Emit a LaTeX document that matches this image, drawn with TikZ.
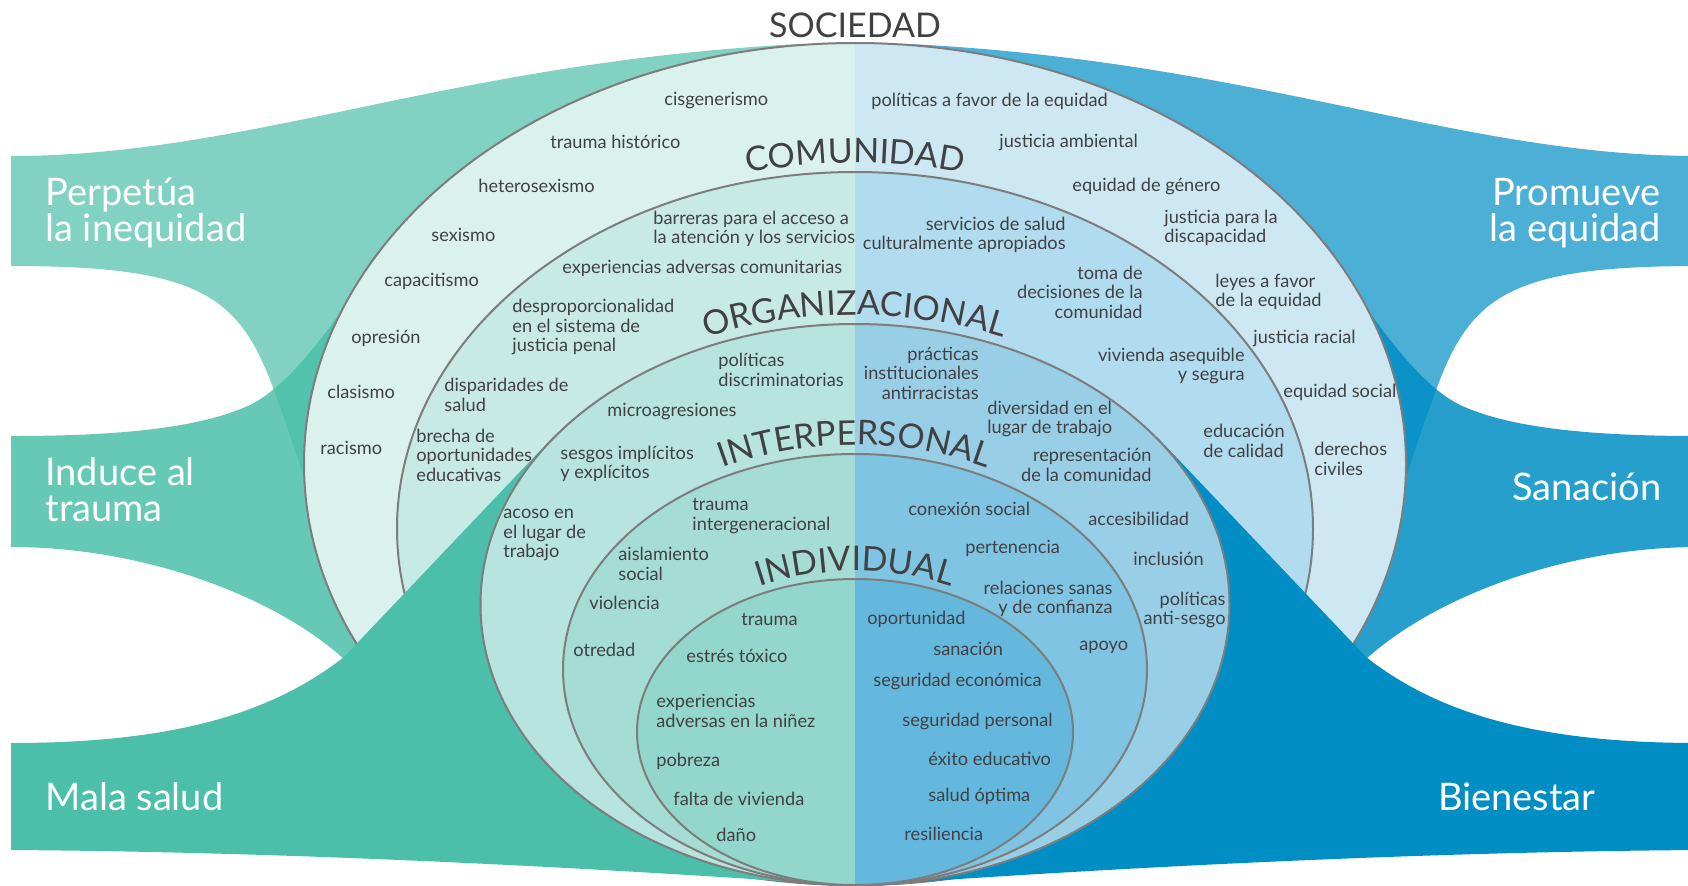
\documentclass[tikz,border=0pt]{standalone}
\usepackage{fontspec}
\setmainfont{Lato}
\usetikzlibrary{decorations.text}

\definecolor{tealbase}{HTML}{4BBFA9}
\definecolor{bluebase}{HTML}{008EC4}
\definecolor{socL}{HTML}{DAF1EE}
\definecolor{comL}{HTML}{C7EAE4}
\definecolor{orgL}{HTML}{B7E4DD}
\definecolor{intL}{HTML}{A5DDD4}
\definecolor{indL}{HTML}{93D6CB}
\definecolor{socR}{HTML}{CDE8F3}
\definecolor{comR}{HTML}{B1DBEE}
\definecolor{orgR}{HTML}{98CFE7}
\definecolor{intR}{HTML}{7FC4E2}
\definecolor{indR}{HTML}{64B8DE}
\definecolor{ringcol}{HTML}{7D7D7D}
\definecolor{txtcol}{HTML}{414042}
\newcommand\ttlfont{\fontsize{17}{17}\selectfont}

\begin{document}
\begin{tikzpicture}[x=0.5pt, y=-0.5pt]
  \tikzstyle{ring} = [draw=ringcol, line width=1pt]
  \tikzstyle{lbl} = [inner sep=0pt, text=txtcol, font=\fontsize{9.1}{9.8}\selectfont,
                     align=left, anchor=west]
  \tikzstyle{lblr} = [lbl, align=right, anchor=east]
  \tikzstyle{band} = [inner sep=0pt, text=white, font=\fontsize{19}{18}\selectfont,
                      align=left, anchor=west]
  \tikzstyle{lvltitle} = [decorate, decoration={text along path, text align=center,
                          text color=txtcol}]
\useasboundingbox (0,0) rectangle (1688,885);
\clip (0,0) rectangle (1688,885);
% ribbons behind the outer rings
\foreach \s/\c in {1/tealbase, -1/bluebase}{
  \begin{scope}[shift={(855,0)}, xscale=\s, shift={(-855,0)}]
    \fill[\c, opacity=0.85] (11,436) .. controls (120,436) and (200,428) .. (250,405)
        .. controls (290,385) and (330,330) .. (375,262) -- (600,450) -- (420,740)
        -- (345,660) .. controls (280,600) and (150,547) .. (11,547) -- cycle;
    \fill[\c, opacity=0.7] (11,156) .. controls (250,156) and (450,62) .. (800,44)
        -- (855,50) -- (855,300) -- (500,560) -- (358,655)
        .. controls (330,560) and (300,460) .. (275,393)
        .. controls (240,295) and (200,266) .. (11,266) -- cycle;
  \end{scope}
}
% sociedad, comunidad
\foreach \cy/\rx/\ry/\lc/\rc in {464/551/421/socL/socR, 528.5/458/356.5/comL/comR}{
  \begin{scope}
    \clip (0,0) rectangle (855,885);
    \fill[\lc] (855,\cy) ellipse [x radius=\rx, y radius=\ry];
  \end{scope}
  \begin{scope}
    \clip (855,0) rectangle (1688,885);
    \fill[\rc] (855,\cy) ellipse [x radius=\rx, y radius=\ry];
  \end{scope}
  \draw[ring] (855,\cy) ellipse [x radius=\rx, y radius=\ry];
}
% mala salud / bienestar
\foreach \s/\c in {1/tealbase, -1/bluebase}{
  \begin{scope}[shift={(855,0)}, xscale=\s, shift={(-855,0)}]
    \fill[\c] (11,743) .. controls (170,743) and (270,715) .. (344,657) -- (553,437)
        -- (640,440) -- (855,700) -- (855,886) .. controls (600,868) and (300,852) .. (11,850) -- cycle;
  \end{scope}
}
% organizacional, interpersonal, individual
\foreach \cy/\rx/\ry/\lc/\rc in {604.5/374.5/280.5/orgL/orgR, 669.5/292/215.5/intL/intR,
                                 732/218/153/indL/indR}{
  \begin{scope}
    \clip (0,0) rectangle (855,885);
    \fill[\lc] (855,\cy) ellipse [x radius=\rx, y radius=\ry];
  \end{scope}
  \begin{scope}
    \clip (855,0) rectangle (1688,885);
    \fill[\rc] (855,\cy) ellipse [x radius=\rx, y radius=\ry];
  \end{scope}
  \draw[ring] (855,\cy) ellipse [x radius=\rx, y radius=\ry];
}

% level titles
\node[inner sep=0pt, text=txtcol, font=\ttlfont] (soc) at (855,25) {SOCIEDAD};
\path[lvltitle, decoration={text={|\ttlfont|COMUNIDAD}}]
  (855,528.5) ++(235:467 and 365.5) arc [start angle=235, end angle=305, x radius=467, y radius=365.5];
\path[lvltitle, decoration={text={|\ttlfont|ORGANIZACIONAL}}]
  (855,604.5) ++(215:383.5 and 289.5) arc [start angle=215, end angle=325, x radius=383.5, y radius=289.5];
\path[lvltitle, decoration={text={|\ttlfont|INTERPERSONAL}}]
  (855,669.5) ++(210:301 and 224.5) arc [start angle=210, end angle=330, x radius=301, y radius=224.5];
\path[lvltitle, decoration={text={|\ttlfont|INDIVIDUAL}}]
  (855,732) ++(205:226 and 161) arc [start angle=205, end angle=335, x radius=226, y radius=161];

% sociedad
\node[lbl] (socl1) at (664,101) {cisgenerismo};
\node[lbl] (socl2) at (550,142) {trauma histórico};
\node[lbl] (socl3) at (478,186) {heterosexismo};
\node[lbl] (socl4) at (431,235) {sexismo};
\node[lbl] (socl5) at (384,281) {capacitismo};
\node[lbl] (socl6) at (351,338) {opresión};
\node[lbl] (socl7) at (327,392) {clasismo};
\node[lbl] (socl8) at (320,448) {racismo};
\node[lbl] (socr1) at (871,101) {políticas a favor de la equidad};
\node[lbl] (socr2) at (999,142) {justicia ambiental};
\node[lbl] (socr3) at (1072,186) {equidad de género};
\node[lbl] (socr4) at (1164,228) {justicia para la\\discapacidad};
\node[lbl] (socr5) at (1215,292) {leyes a favor\\de la equidad};
\node[lbl] (socr6) at (1253,338) {justicia racial};
\node[lbl] (socr7) at (1283,392) {equidad social};
\node[lbl] (socr8) at (1314,459) {derechos\\civiles};
% comunidad
\node[lbl] (cmnl1) at (653,229) {barreras para el acceso a\\la atención y los servicios};
\node[lbl] (cmnl2) at (562,268) {experiencias adversas comunitarias};
\node[lbl] (cmnl3) at (512,327) {desproporcionalidad\\en el sistema de\\justicia penal};
\node[lbl] (cmnl4) at (444,395) {disparidades de\\salud};
\node[lbl] (cmnl5) at (416,455) {brecha de\\oportunidades\\educativas};
\node[lblr] (cmnr1) at (1066,235) {servicios de salud\\culturalmente apropiados};
\node[lblr] (cmnr2) at (1143,292) {toma de\\decisiones de la\\comunidad};
\node[lblr] (cmnr3) at (1245,366) {vivienda asequible\\y segura};
\node[lbl] (cmnr4) at (1203,441) {educación\\de calidad};
% organizacional
\node[lbl] (orgl1) at (718,370) {políticas\\discriminatorias};
\node[lbl] (orgl2) at (607,412) {microagresiones};
\node[lbl] (orgl3) at (560,464) {sesgos implícitos\\y explícitos};
\node[lbl] (orgl4) at (503,535) {acoso en\\el lugar de\\trabajo};
\node[lblr] (orgr1) at (979,373) {prácticas\\institucionales\\antirracistas};
\node[lbl] (orgr2) at (987,419) {diversidad en el\\lugar de trabajo};
\node[lblr] (orgr3) at (1152,465) {representación\\de la comunidad};
\node[lbl] (orgr4) at (1088,519) {accesibilidad};
\node[lbl] (orgr5) at (1133,559) {inclusión};
\node[lblr] (orgr6) at (1226,610) {políticas\\anti-sesgo};
% interpersonal
\node[lbl] (itpl1) at (692,516) {trauma\\intergeneracional};
\node[lbl] (itpl2) at (618,564) {aislamiento\\social};
\node[lbl] (itpl3) at (589,603) {violencia};
\node[lbl] (itpl4) at (573,650) {otredad};
\node[lbl] (itpr1) at (908,509) {conexión social};
\node[lbl] (itpr2) at (965,548) {pertenencia};
\node[lblr] (itpr3) at (1113,599) {relaciones sanas\\y de confianza};
\node[lbl] (itpr4) at (1079,647) {apoyo};
% individual
\node[lbl] (indl1) at (741,619) {trauma};
\node[lbl] (indl2) at (686,656) {estrés tóxico};
\node[lbl] (indl3) at (656,711) {experiencias\\adversas en la niñez};
\node[lbl] (indl4) at (656,761) {pobreza};
\node[lbl] (indl5) at (673,799) {falta de vivienda};
\node[lbl] (indl6) at (716,835) {daño};
\node[lbl] (indr1) at (867,619) {oportunidad};
\node[lbl] (indr2) at (933,649) {sanación};
\node[lbl] (indr3) at (873,681) {seguridad económica};
\node[lbl] (indr4) at (902,721) {seguridad personal};
\node[lbl] (indr5) at (928,759) {éxito educativo};
\node[lbl] (indr6) at (928,796) {salud óptima};
\node[lbl] (indr7) at (904,834) {resiliencia};

% outcomes
\node[band] (perp) at (45,213) {Perpetúa\\la inequidad};
\node[band] (indu) at (45,490) {Induce al\\trauma};
\node[band] (mala) at (45,797) {Mala salud};
\node[band, align=right, anchor=east] (prom) at (1661,213) {Promueve\\la equidad};
\node[band, anchor=east] (sana) at (1662,487) {Sanación};
\node[band, anchor=east] (bien) at (1596,797) {Bienestar};
\end{tikzpicture}
\end{document}
